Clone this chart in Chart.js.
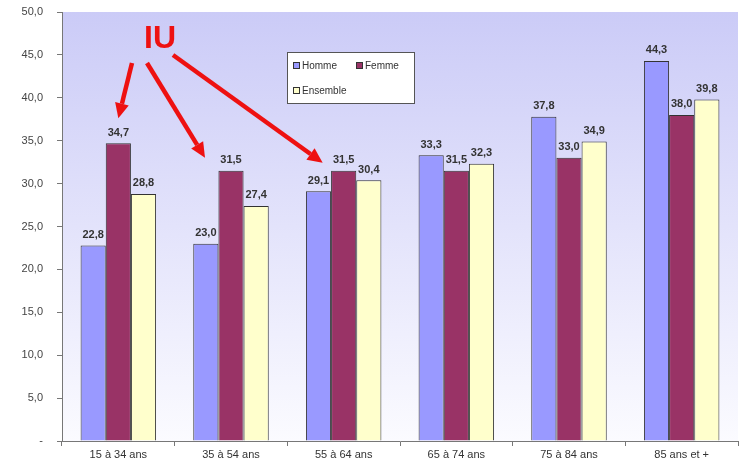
<!DOCTYPE html>
<html>
<head>
<meta charset="utf-8">
<script src="https://cdn.jsdelivr.net/npm/chart.js@4/dist/chart.umd.min.js"></script>
<style>
  html, body { margin: 0; padding: 0; background: #fff; }
  #wrap { width: 740px; height: 462px; }
</style>
</head>
<body>
<div id="wrap"><canvas id="myChart" width="740" height="462"></canvas></div>
<script>
const categories = ["15 à 34 ans", "35 à 54 ans", "55 à 64 ans", "65 à 74 ans", "75 à 84 ans", "85 ans et +"];
const homme = [22.8, 23.0, 29.1, 33.3, 37.8, 44.3];
const femme = [34.7, 31.5, 31.5, 31.5, 33.0, 38.0];
const ensemble = [28.8, 27.4, 30.4, 32.3, 34.9, 39.8];
const yTicks = [0, 5, 10, 15, 20, 25, 30, 35, 40, 45, 50];

const fmt = v => v.toFixed(1).replace(".", ",");
const FONT = "'Liberation Sans', Arial, sans-serif";

// gradient behind the plot area
const bgPlugin = {
  id: "bg",
  beforeDraw(chart) {
    const { ctx, chartArea: a } = chart;
    const g = ctx.createLinearGradient(0, a.top, 0, a.bottom);
    g.addColorStop(0, "#cbcbf7");
    g.addColorStop(1, "#fbfbff");
    ctx.save();
    ctx.fillStyle = g;
    ctx.fillRect(a.left, a.top, a.right - a.left, a.bottom - a.top);
    ctx.restore();
  }
};

// value labels above each bar
const labelPlugin = {
  id: "valueLabels",
  afterDatasetsDraw(chart) {
    const ctx = chart.ctx;
    ctx.save();
    ctx.font = "bold 11px " + FONT;
    ctx.fillStyle = "#333";
    ctx.textAlign = "center";
    ctx.textBaseline = "bottom";
    chart.data.datasets.forEach((ds, i) => {
      chart.getDatasetMeta(i).data.forEach((bar, j) => {
        ctx.fillText(fmt(ds.data[j]), bar.x, bar.y - 5);
      });
    });
    ctx.restore();
  }
};

// legend box inside the plot
const legendPlugin = {
  id: "boxLegend",
  afterDraw(chart) {
    const { ctx, chartArea: a } = chart;
    const x = a.left + 225, y = a.top + 40, w = 127, h = 51;
    ctx.save();
    ctx.fillStyle = "#fff";
    ctx.fillRect(x, y, w, h);
    ctx.strokeStyle = "#555";
    ctx.lineWidth = 1;
    ctx.strokeRect(x + 0.5, y + 0.5, w, h);
    ctx.font = "10px " + FONT;
    ctx.textBaseline = "middle";
    const spots = [[x + 6, y + 13], [x + 69, y + 13], [x + 6, y + 38]];
    chart.data.datasets.forEach((ds, i) => {
      const [sx, sy] = spots[i];
      ctx.fillStyle = ds.backgroundColor;
      ctx.fillRect(sx, sy - 3, 7, 7);
      ctx.strokeStyle = "#333";
      ctx.strokeRect(sx + 0.5, sy - 2.5, 6, 6);
      ctx.fillStyle = "#333";
      ctx.fillText(ds.label, sx + 9, sy + 1);
    });
    ctx.restore();
  }
};

// red "IU" note with arrows
function arrow(ctx, x1, y1, x2, y2) {
  const ang = Math.atan2(y2 - y1, x2 - x1);
  const head = 15, half = 7;
  const bx = x2 - head * Math.cos(ang), by = y2 - head * Math.sin(ang);
  ctx.beginPath();
  ctx.moveTo(x1, y1);
  ctx.lineTo(bx, by);
  ctx.stroke();
  ctx.beginPath();
  ctx.moveTo(x2, y2);
  ctx.lineTo(bx + half * Math.sin(ang), by - half * Math.cos(ang));
  ctx.lineTo(bx - half * Math.sin(ang), by + half * Math.cos(ang));
  ctx.closePath();
  ctx.fill();
}
const notePlugin = {
  id: "iuNote",
  afterDraw(chart) {
    const { ctx, chartArea: a } = chart;
    const bars = chart.getDatasetMeta(1).data;
    const ys = chart.scales.y;
    ctx.save();
    ctx.fillStyle = "#ee1111";
    ctx.strokeStyle = "#ee1111";
    ctx.lineWidth = 4.5;
    ctx.font = "bold 32px " + FONT;
    ctx.textAlign = "center";
    ctx.textBaseline = "alphabetic";
    ctx.fillText("IU", a.left + 98, a.top + 36);
    arrow(ctx, a.left + 70, a.top + 51, bars[0].x, ys.getPixelForValue(femme[0]) - 25);
    arrow(ctx, a.left + 85, a.top + 51, bars[1].x - 26, ys.getPixelForValue(femme[1]) - 13);
    arrow(ctx, a.left + 111, a.top + 43, bars[2].x - 21, ys.getPixelForValue(femme[2]) - 8);
    ctx.restore();
  }
};

const data = {
  labels: categories,
  datasets: [
    { label: "Homme", data: homme, backgroundColor: "#9999ff" },
    { label: "Femme", data: femme, backgroundColor: "#993366" },
    { label: "Ensemble", data: ensemble, backgroundColor: "#ffffcc" }
  ].map(d => Object.assign(d, {
    borderColor: "#333",
    borderWidth: 1,
    barPercentage: 1,
    categoryPercentage: 0.67
  }))
};

const config = {
  type: "bar",
  data: data,
  options: {
    responsive: false,
    animation: false,
    layout: { padding: { top: 12, right: 2, left: 0, bottom: 0 } },
    plugins: {
      legend: { display: false },
      tooltip: { enabled: false }
    },
    scales: {
      x: {
        grid: { display: true, drawOnChartArea: false, drawTicks: true, tickLength: 5, color: "#777", offset: true },
        border: { display: true, color: "#777", width: 1 },
        ticks: { color: "#333", font: { family: FONT, size: 11 }, padding: 2 },
        afterFit: s => { s.height = 21; }
      },
      y: {
        min: 0,
        max: 50,
        afterBuildTicks: s => { s.ticks = yTicks.map(v => ({ value: v })); },
        grid: { display: true, drawOnChartArea: false, drawTicks: true, tickLength: 5, color: "#777" },
        border: { display: true, color: "#777", width: 1 },
        ticks: {
          color: "#444",
          font: { family: FONT, size: 11 },
          padding: 14,
          callback: v => (v === 0 ? "-" : fmt(v))
        },
        afterFit: s => { s.width = 62; s.paddingTop = 0; s.paddingBottom = 0; }
      }
    }
  },
  plugins: [bgPlugin, labelPlugin, legendPlugin, notePlugin]
};

new Chart(document.getElementById("myChart").getContext("2d"), config);
</script>
</body>
</html>
